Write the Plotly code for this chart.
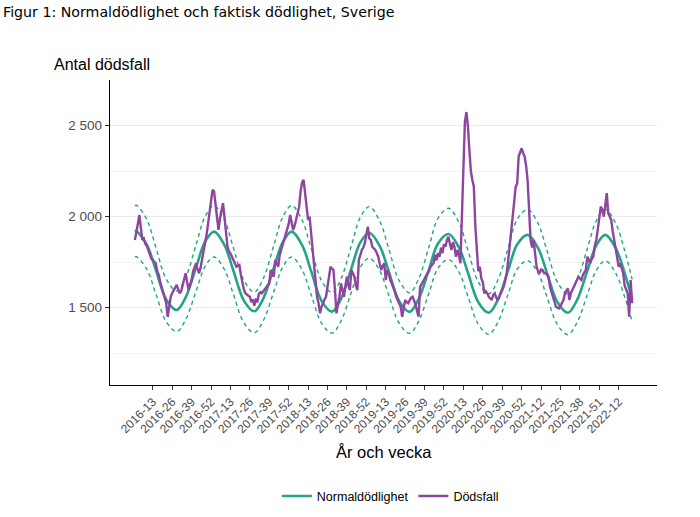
import plotly.graph_objects as go

# ---------------- data ----------------
years = [2016, 2017, 2018, 2019, 2020, 2021, 2022]
weeks_in_year = [52, 52, 52, 52, 53, 52, 21]

deaths_2016 = [1872, 1930, 1960, 2009, 1920, 1872, 1880, 1850, 1840, 1820,
               1800, 1770, 1762, 1750, 1744, 1700, 1680, 1640, 1610, 1590,
               1550, 1524, 1450, 1520, 1560, 1580, 1597, 1610, 1625, 1600,
               1579, 1590, 1620, 1650, 1689, 1640, 1597, 1630, 1652, 1700,
               1720, 1744, 1710, 1689, 1720, 1762, 1800, 1854, 1900, 1960,
               2019, 2080]
deaths_2017 = [2147, 2140, 2060, 1982, 1927, 1990, 2040, 2074, 2000, 1900,
               1835, 1810, 1799, 1780, 1762, 1740, 1725, 1730, 1734, 1680,
               1634, 1600, 1579, 1570, 1565, 1560, 1530, 1545, 1510, 1550,
               1530, 1575, 1585, 1579, 1590, 1597, 1610, 1625, 1634, 1707,
               1690, 1670, 1762, 1740, 1725, 1790, 1817, 1850, 1872, 1900,
               1927, 1960]
deaths_2018 = [2009, 1960, 1927, 1950, 1982, 2020, 2055, 2140, 2190, 2202,
               2120, 2055, 1982, 2000, 1920, 1835, 1740, 1670, 1560, 1524,
               1469, 1505, 1530, 1545, 1560, 1610, 1670, 1725, 1715, 1707,
               1597, 1469, 1520, 1560, 1634, 1600, 1560, 1620, 1670, 1620,
               1597, 1707, 1690, 1670, 1620, 1597, 1762, 1790, 1817, 1830,
               1854, 1900]
deaths_2019 = [1945, 1880, 1872, 1835, 1825, 1817, 1800, 1780, 1740, 1707,
               1730, 1744, 1652, 1707, 1690, 1652, 1634, 1615, 1590, 1560,
               1542, 1520, 1505, 1450, 1500, 1542, 1530, 1524, 1540, 1555,
               1560, 1540, 1515, 1480, 1450, 1615, 1630, 1652, 1660, 1675,
               1689, 1700, 1725, 1735, 1744, 1790, 1760, 1800, 1780, 1830,
               1800, 1850]
deaths_2020 = [1835, 1872, 1890, 1850, 1817, 1860, 1835, 1780, 1817, 1790,
               1744, 2000, 2300, 2520, 2575, 2500, 2367, 2250, 2202, 2165,
               1945, 1800, 1700, 1725, 1660, 1640, 1579, 1590, 1579, 1560,
               1550, 1542, 1570, 1579, 1555, 1542, 1560, 1579, 1600, 1615,
               1650, 1689, 1760, 1835, 1900, 2000, 2080, 2165, 2180, 2330,
               2350, 2376, 2350]
deaths_2021 = [2330, 2280, 2200, 2037, 1870, 1830, 1872, 1799, 1725, 1700,
               1689, 1710, 1707, 1690, 1689, 1680, 1670, 1615, 1590, 1560,
               1530, 1505, 1500, 1496, 1510, 1530, 1542, 1579, 1590, 1606,
               1542, 1580, 1597, 1615, 1634, 1650, 1670, 1660, 1652, 1680,
               1695, 1707, 1780, 1760, 1744, 1770, 1780, 1840, 1872, 1930,
               1982, 2055]
deaths_2022 = [2040, 2000, 2060, 2129, 2019, 2000, 1982, 1920, 1872, 1800,
               1762, 1725, 1744, 1720, 1689, 1620, 1597, 1579, 1450, 1652,
               1524]

normal_weeks = ["2016-01", "2016-02", "2016-09", "2016-15", "2016-22", "2016-29", "2016-35", "2016-42", "2016-48",
                "2017-02", "2017-09", "2017-15", "2017-22", "2017-29", "2017-35", "2017-42", "2017-48",
                "2018-02", "2018-09", "2018-15", "2018-22", "2018-29", "2018-35", "2018-42", "2018-48",
                "2019-02", "2019-09", "2019-15", "2019-22", "2019-29", "2019-35", "2019-42", "2019-48",
                "2020-03", "2020-10", "2020-16", "2020-23", "2020-30", "2020-36", "2020-43", "2020-49",
                "2021-03", "2021-10", "2021-16", "2021-23", "2021-30", "2021-36", "2021-43", "2021-49",
                "2022-03", "2022-10", "2022-16", "2022-21"]
normal_vals = [1918, 1920, 1846, 1708, 1545, 1487, 1556, 1721, 1862,
               1918, 1844, 1703, 1539, 1480, 1550, 1717, 1859,
               1918, 1843, 1702, 1537, 1478, 1548, 1716, 1859,
               1912, 1838, 1699, 1536, 1477, 1547, 1712, 1853,
               1905, 1831, 1693, 1530, 1472, 1541, 1706, 1847,
               1900, 1827, 1690, 1530, 1472, 1540, 1703, 1842,
               1900, 1827, 1690, 1545]
upper_vals = [2060, 2063, 1984, 1833, 1657, 1592, 1666, 1845, 2000,
              2061, 1982, 1828, 1651, 1585, 1660, 1841, 1997,
              2061, 1981, 1827, 1649, 1583, 1658, 1840, 1997,
              2055, 1976, 1824, 1648, 1582, 1657, 1836, 1991,
              2046, 1968, 1817, 1641, 1576, 1650, 1829, 1984,
              2040, 1963, 1813, 1640, 1575, 1648, 1825, 1978,
              2040, 1963, 1813, 1655]
lower_vals = [1778, 1780, 1711, 1578, 1423, 1369, 1434, 1591, 1726,
              1778, 1709, 1573, 1417, 1362, 1428, 1587, 1723,
              1778, 1708, 1572, 1415, 1360, 1426, 1586, 1723,
              1772, 1703, 1569, 1414, 1359, 1425, 1582, 1717,
              1765, 1696, 1563, 1408, 1354, 1419, 1576, 1711,
              1758, 1690, 1558, 1406, 1352, 1416, 1572, 1704,
              1758, 1690, 1558, 1425]

tick_labels = ["2016-13", "2016-26", "2016-39", "2016-52",
               "2017-13", "2017-26", "2017-39", "2017-52",
               "2018-13", "2018-26", "2018-39", "2018-52",
               "2019-13", "2019-26", "2019-39", "2019-52",
               "2020-13", "2020-26", "2020-39", "2020-52",
               "2021-12", "2021-25", "2021-38", "2021-51", "2022-12"]
y_tick_vals = [1500, 2000, 2500]
y_tick_text = ["1 500", "2 000", "2 500"]

# ---------------- build ----------------
week_labels = [f"{y}-{w:02d}" for y, n in zip(years, weeks_in_year) for w in range(1, n + 1)]
deaths = deaths_2016 + deaths_2017 + deaths_2018 + deaths_2019 + deaths_2020 + deaths_2021 + deaths_2022

TEAL = "#23A585"
PURPLE = "#8E45A0"
SANS = "Liberation Sans"

fig = go.Figure()
fig.add_trace(go.Scatter(x=normal_weeks, y=upper_vals, mode="lines", line=dict(color=TEAL, width=1.4, dash="4px,3.5px", shape="spline"),
                         showlegend=False, hoverinfo="skip"))
fig.add_trace(go.Scatter(x=normal_weeks, y=lower_vals, mode="lines", line=dict(color=TEAL, width=1.4, dash="4px,3.5px", shape="spline"),
                         showlegend=False, hoverinfo="skip"))
fig.add_trace(go.Scatter(x=normal_weeks, y=normal_vals, mode="lines", name="Normaldödlighet",
                         line=dict(color=TEAL, width=2.6, shape="spline")))
fig.add_trace(go.Scatter(x=week_labels, y=deaths, mode="lines", name="Dödsfall",
                         line=dict(color=PURPLE, width=2.4)))

n = len(week_labels)
pad = 0.05 * (n - 1)

fig.update_layout(
    width=700, height=517,
    margin=dict(l=110, r=43, t=80, b=132, autoexpand=False),
    paper_bgcolor="white", plot_bgcolor="white",
    font=dict(family=SANS, color="#000000"),
    showlegend=True,
    legend=dict(orientation="h", x=0.5125, xanchor="center", y=-0.365, yanchor="middle",
                font=dict(family=SANS, size=12.5, color="#000000"), itemwidth=30),
    xaxis=dict(type="category", categoryorder="array", categoryarray=week_labels,
               range=[-pad, n - 1 + pad], automargin=False,
               tickmode="array", tickvals=tick_labels, ticktext=tick_labels,
               tickangle=-45, tickfont=dict(family=SANS, size=12, color="#4D4D4D"),
               ticks="outside", ticklen=4, tickcolor="#333333", tickwidth=1,
               showgrid=False, zeroline=False,
               showline=True, linecolor="black", linewidth=1.3),
    yaxis=dict(range=[1075, 2751], automargin=False,
               tickmode="array", tickvals=y_tick_vals, ticktext=y_tick_text,
               tickfont=dict(family=SANS, size=13.5, color="#4D4D4D"),
               ticks="outside", ticklen=4, tickcolor="#333333", tickwidth=1,
               showgrid=True, gridcolor="#EBEBEB", gridwidth=1.1,
               minor=dict(tickmode="array", tickvals=[1250, 1750, 2250, 2750], showgrid=True,
                          gridcolor="#F2F2F2", gridwidth=1, ticks=""),
               zeroline=False,
               showline=True, linecolor="black", linewidth=1.3),
    annotations=[
        dict(text="Figur 1: Normaldödlighet och faktisk dödlighet, Sverige", xref="paper", yref="paper",
             x=-109 / 547, y=(385 - 12) / 305, xanchor="left", yanchor="middle", showarrow=False,
             font=dict(family="DejaVu Sans", size=14.2, color="#000000")),
        dict(text="Antal dödsfall", xref="paper", yref="paper",
             x=(52 - 110) / 547, y=(385 - 64) / 305, xanchor="left", yanchor="middle", showarrow=False,
             font=dict(family=SANS, size=16, color="#000000")),
        dict(text="År och vecka", xref="paper", yref="paper",
             x=(384 - 110) / 547, y=(385 - 452) / 305, xanchor="center", yanchor="middle", showarrow=False,
             font=dict(family=SANS, size=16.5, color="#000000")),
    ],
)

fig.write_html("out.html", config={"displayModeBar": False},
               post_script="document.body.style.margin='0';")
